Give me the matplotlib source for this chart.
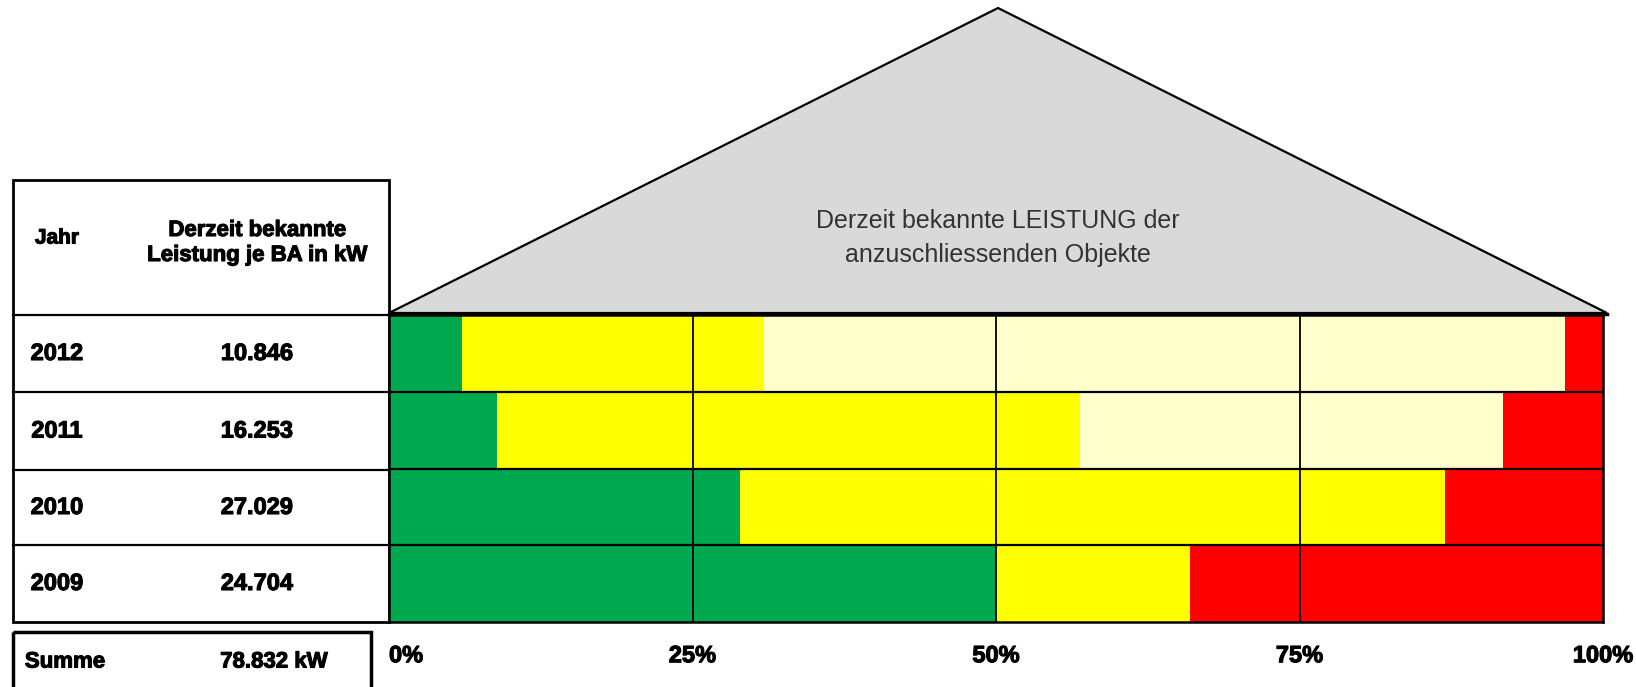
import matplotlib.pyplot as plt
import matplotlib.patheffects as pe
from matplotlib.patches import Polygon, Rectangle

plt.rcParams['font.family'] = ['Liberation Sans', 'DejaVu Sans']

years = ['2012', '2011', '2010', '2009']
leistung = ['10.846', '16.253', '27.029', '24.704']
summe = '78.832 kW'

# Anteile in % je Baujahr (grün, gelb, hellgelb, rot)
gruen = [6.0, 8.9, 28.9, 50.0]
gelb = [24.9, 48.0, 58.1, 16.0]
hellgelb = [66.0, 34.9, 0.0, 0.0]
rot = [3.1, 8.2, 13.0, 34.0]

tick_pos = [0, 25, 50, 75, 100]
tick_labels = ['0%', '25%', '50%', '75%', '100%']

colors = ['#00a84f', '#ffff00', '#ffffcc', '#ff0000']
heavy = [pe.withStroke(linewidth=0.8, foreground='black')]

W, H = 1636, 687
fig = plt.figure(figsize=(W / 100, H / 100), dpi=100)

# Hintergrund-Achse in Pixeln für Dach und Tabelle
bg = fig.add_axes([0, 0, 1, 1])
bg.set_xlim(0, W)
bg.set_ylim(H, 0)
bg.axis('off')

bar_l, bar_r, bar_t, bar_b = 389, 1603, 315, 622
apex = (998, 8)

bg.add_patch(Polygon([(bar_l, bar_t - 2), apex, (bar_r + 4, bar_t - 2)],
                     closed=True, facecolor='#d9d9d9', edgecolor='black', lw=1.6))
bg.plot([bar_l, bar_r + 4], [bar_t - 1, bar_t - 1], color='black', lw=2.5)
bg.text(apex[0], 238, 'Derzeit bekannte LEISTUNG der\nanzuschliessenden Objekte',
        ha='center', va='center', fontsize=18, color='#333333', linespacing=1.5)

# Tabelle
tab_l, tab_t = 12.5, 180
bg.add_patch(Rectangle((tab_l, tab_t), bar_l - tab_l, bar_b - tab_t,
                       fill=False, edgecolor='black', lw=2))
row_edges = [bar_t, 392, 470, 545, bar_b]
for y in row_edges[:-1]:
    bg.plot([tab_l, bar_l], [y, y], color='black', lw=1.6)

col1, col2 = 57, 257
bg.text(col1, 238, 'Jahr', ha='center', va='center', fontsize=15, fontweight='bold',
        path_effects=heavy)
bg.text(col2, 243, 'Derzeit bekannte\nLeistung je BA in kW', ha='center', va='center',
        fontsize=16, fontweight='bold', linespacing=1.25, path_effects=heavy)
for i, (yr, val) in enumerate(zip(years, leistung)):
    yc = (row_edges[i] + row_edges[i + 1]) / 2
    bg.text(col1, yc, yr, ha='center', va='center', fontsize=17, fontweight='bold',
            path_effects=heavy)
    bg.text(col2, yc, val, ha='center', va='center', fontsize=17, fontweight='bold',
            path_effects=heavy)

bg.add_patch(Rectangle((tab_l, 632), 371 - tab_l, 80, fill=False, edgecolor='black', lw=2.5))
bg.text(65, 662, 'Summe', ha='center', va='center', fontsize=16, fontweight='bold',
        path_effects=heavy)
bg.text(274, 662, summe, ha='center', va='center', fontsize=16, fontweight='bold',
        path_effects=heavy)

# Balken
ax = fig.add_axes([bar_l / W, (H - bar_b) / H, (bar_r - bar_l) / W, (bar_b - bar_t) / H])
y = list(range(len(years)))
left = [0.0] * len(years)
for vals, c in zip([gruen, gelb, hellgelb, rot], colors):
    ax.barh(y, vals, left=left, height=1.0, color=c, edgecolor='none', zorder=1)
    left = [a + b for a, b in zip(left, vals)]

ax.set_xlim(0, 100)
ax.set_ylim(len(years) - 0.5, -0.5)
for x in tick_pos[1:-1]:
    ax.axvline(x, color='black', lw=1.3, zorder=3)
for k in range(1, len(years)):
    ax.axhline(k - 0.5, color='black', lw=1.6, zorder=3)
for s in ax.spines.values():
    s.set_color('black')
    s.set_linewidth(1.8)
    s.set_zorder(4)

ax.set_yticks([])
ax.set_xticks(tick_pos)
ax.set_xticklabels(tick_labels, fontsize=17, fontweight='bold')
ax.tick_params(axis='x', length=0, pad=16)
for t in ax.get_xticklabels():
    t.set_path_effects(heavy)
ax.get_xticklabels()[0].set_horizontalalignment('left')

fig.savefig('out.png', dpi=100)
